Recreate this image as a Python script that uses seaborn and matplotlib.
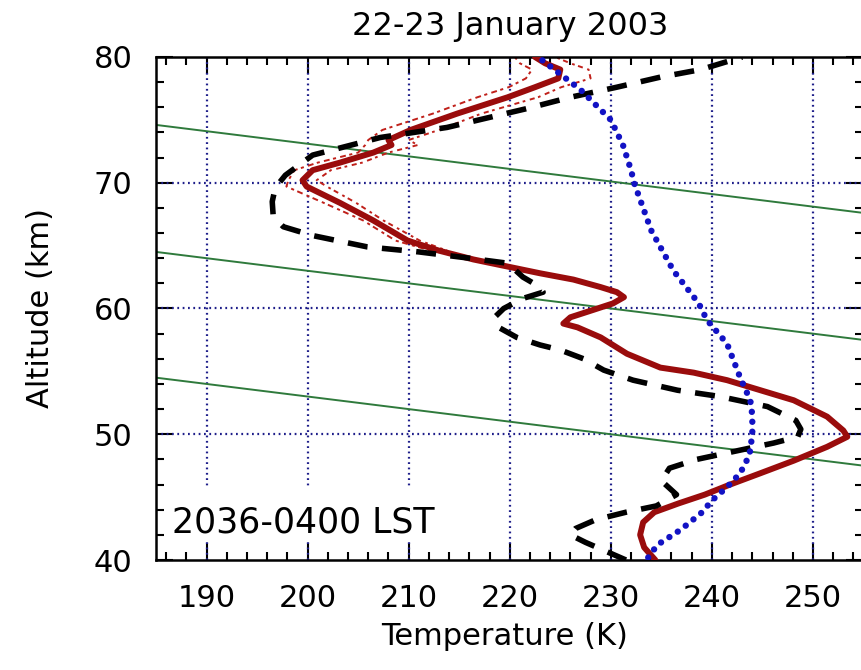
import matplotlib
matplotlib.use("Agg")
import matplotlib.pyplot as plt
from matplotlib.ticker import MultipleLocator
from matplotlib.patches import Rectangle
import numpy as np
import seaborn as sns

# ---- lidar temperature profile (K) vs altitude (km), bottom to top ----
lidar_alt = [40.0, 41.0, 42.0, 43.0, 43.8, 44.5, 45.2, 46.0, 46.9, 47.9, 49.0, 49.8,
             50.3, 51.4, 52.7, 53.5, 54.3, 54.9, 55.3, 56.4, 57.7, 58.5, 58.8, 59.3,
             59.9, 60.4, 60.9, 61.3, 61.7, 62.3, 62.8, 63.3, 63.9, 64.6, 65.4, 67.0,
             68.4, 69.7, 70.2, 71.0, 71.6, 72.4, 73.0, 73.4, 74.2, 75.5, 76.8, 77.6,
             78.3, 79.0, 79.5, 80.0]
lidar_temp = [234.4, 233.3, 232.9, 233.2, 234.3, 236.7, 239.3, 241.8, 244.8, 248.1, 251.4, 253.4,
              253.0, 251.4, 248.1, 244.8, 241.5, 238.2, 234.9, 231.6, 229.0, 226.7, 225.3, 226.0,
              228.3, 230.2, 231.3, 230.6, 229.0, 226.3, 223.0, 220.0, 216.4, 213.0, 209.9, 206.5,
              203.2, 199.9, 199.5, 200.5, 203.2, 206.5, 208.3, 208.0, 210.2, 214.8, 219.8, 222.5,
              224.8, 225.0, 223.5, 222.5]
# measurement uncertainty (K) for the upper levels, from 64.6 km up
lidar_err_alt = lidar_alt[33:]
lidar_err = [0.8, 1.2, 1.0, 1.6, 2.0, 1.4, 1.8, 2.2, 1.5, 2.6, 2.0, 2.8, 2.4, 3.0, 2.6, 3.2,
             2.8, 2.5, 2.0]

# ---- model / reference profile (black dashed) ----
model_alt = [40.0, 40.7, 41.4, 42.0, 42.5, 43.2, 43.8, 44.3, 45.2, 46.3, 47.3, 48.0, 48.6,
             49.3, 49.8, 50.4, 51.1, 52.2, 53.0, 53.5, 54.3, 55.1, 56.0, 56.7, 57.1, 57.7,
             58.5, 59.3, 60.0, 60.8, 61.3, 61.7, 62.5, 63.6, 64.0, 64.5, 64.9, 65.8, 66.5,
             67.3, 68.5, 69.6, 70.6, 72.2, 73.6, 74.4, 75.9, 76.8, 77.6, 78.4, 79.0, 80.0]
model_temp = [231.5, 229.5, 227.5, 226.0, 226.5, 228.5, 231.5, 234.5, 236.5, 235.0, 235.8, 238.5,
              242.0, 246.1, 248.5, 248.8, 248.3, 245.5, 240.8, 236.6, 232.2, 229.3, 227.3, 225.0,
              223.0, 220.7, 218.9, 218.5, 219.4, 221.3, 223.3, 223.0, 221.3, 219.8, 216.0, 211.0,
              205.9, 200.5, 197.6, 196.6, 196.5, 196.8, 197.8, 200.5, 207.2, 213.8, 221.7, 226.0,
              230.6, 234.9, 238.9, 243.0]

# ---- climatology (blue dotted) ----
clim_alt = [40.2, 41.2, 42.4, 43.7, 44.8, 45.8, 46.9, 48.0, 48.7, 50.1, 51.5, 52.7, 54.5,
            57.2, 59.1, 60.4, 63.0, 66.2, 70.0, 71.0, 73.0, 75.0, 77.4, 80.0]
clim_temp = [233.7, 234.6, 236.9, 238.9, 240.1, 241.5, 242.8, 243.5, 243.8, 244.0, 244.0, 243.8,
             242.8, 241.5, 239.5, 238.7, 236.2, 234.0, 232.3, 232.0, 231.2, 230.0, 227.0, 222.8]

# ---- reference slanted lines (green) ----
slant_temp = [185.0, 255.0]
slant_alt_start = [74.6, 64.5, 54.5]
slant_alt_end = [67.6, 57.5, 47.5]

x_ticks = [190, 200, 210, 220, 230, 240, 250]
y_ticks = [40, 50, 60, 70, 80]

sns.set_style("white")
plt.rcParams["font.family"] = ["DejaVu Sans"]
plt.rcParams["text.color"] = "black"
plt.rcParams["axes.labelcolor"] = "black"
plt.rcParams["xtick.color"] = "black"
plt.rcParams["ytick.color"] = "black"

fig = plt.figure(figsize=(8.62, 6.70), dpi=100)
ax = fig.add_axes([156 / 862, 110 / 670, 707.5 / 862, 503 / 670])
ax.set_xlim(185, 255)
ax.set_ylim(40, 80)

grid_color = "#1e1e8a"
for t in x_ticks:
    ax.axvline(t, color=grid_color, lw=1.6, ls=(0, (0.8, 1.6)), zorder=0.6)
for a in [50, 60, 70]:
    ax.axhline(a, color=grid_color, lw=1.6, ls=(0, (0.8, 1.6)), zorder=0.6)

# white backing for the time-range label
ax.add_patch(Rectangle((186.1, 41.4), 30.0, 4.3, facecolor="white", edgecolor="none", zorder=0.8))

green = "#2f7a3c"
for a0, a1 in zip(slant_alt_start, slant_alt_end):
    sns.lineplot(x=slant_temp, y=[a0, a1], sort=False, estimator=None, ax=ax,
                 color=green, lw=1.4, zorder=1)

red = "#9a0c0c"
lt = np.array(lidar_temp)
le = np.array(lidar_err)
sns.lineplot(x=lt[33:] - le, y=lidar_err_alt, sort=False, estimator=None, ax=ax,
             color="#c0201a", lw=1.4, ls=(0, (1.6, 2.2, 3.0, 1.8)), zorder=2)
sns.lineplot(x=lt[33:] + le, y=lidar_err_alt, sort=False, estimator=None, ax=ax,
             color="#c0201a", lw=1.4, ls=(2, (2.6, 1.8, 1.4, 2.4)), zorder=2)
sns.lineplot(x=lidar_temp, y=lidar_alt, sort=False, estimator=None, ax=ax,
             color=red, lw=4.3, zorder=3, solid_capstyle="round")

sns.lineplot(x=model_temp, y=model_alt, sort=False, estimator=None, ax=ax,
             color="black", lw=4.0, ls=(0, (3.6, 2.6)), zorder=4)

sns.lineplot(x=clim_temp, y=clim_alt, sort=False, estimator=None, ax=ax,
             color="#1212c4", lw=4.6, ls=(0, (0.01, 1.55)), dash_capstyle="round", zorder=5)

ax.text(186.6, 43.0, "2036-0400 LST", fontsize=25, va="center", ha="left", zorder=6)

ax.set_xticks(x_ticks)
ax.set_yticks(y_ticks)
ax.xaxis.set_minor_locator(MultipleLocator(2))
ax.yaxis.set_minor_locator(MultipleLocator(2))
ax.tick_params(which="both", direction="in", top=True, right=True, bottom=True, left=True,
               color="black", width=1.5, labelsize=22, pad=17)
ax.tick_params(which="major", length=12)
ax.tick_params(which="minor", length=6)
for s in ax.spines.values():
    s.set_linewidth(1.8)
    s.set_color("black")

ax.set_xlabel("Temperature (K)", fontsize=22)
ax.set_ylabel("Altitude (km)", fontsize=22)
ax.xaxis.set_label_coords((505 - 156) / 707.5, (560 - 622) / 503)
ax.yaxis.set_label_coords((55 - 156) / 707.5, 0.5)
ax.set_title("22-23 January 2003", fontsize=23, pad=16)

fig.savefig("out.png", dpi=100)
